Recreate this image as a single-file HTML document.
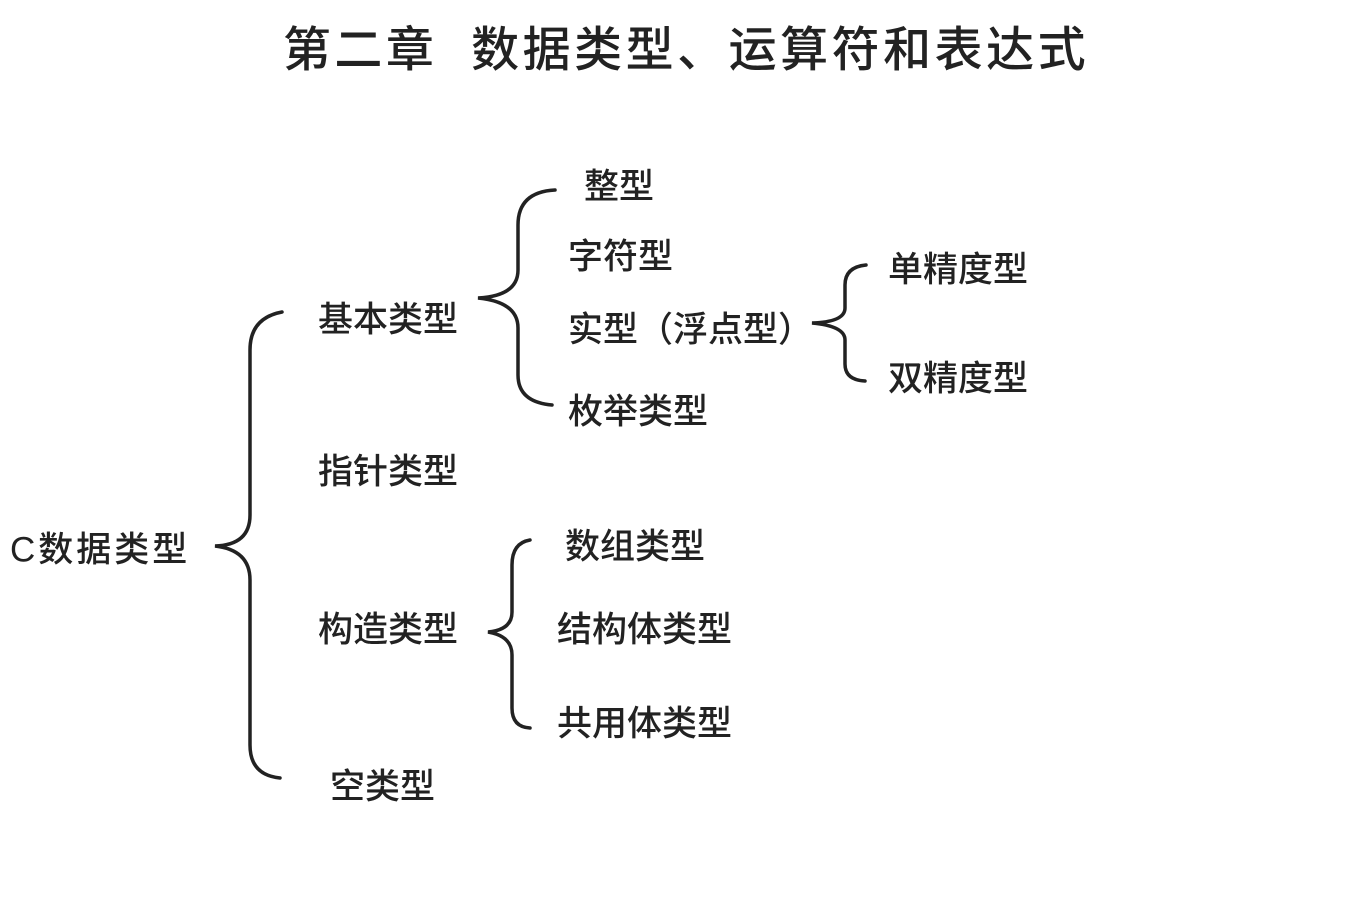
<!DOCTYPE html>
<html><head><meta charset="utf-8">
<style>
body{margin:0;width:1357px;height:904px;background:#fff;position:relative;overflow:hidden;font-family:"Liberation Sans","Noto Sans CJK SC",sans-serif;color:#222}
.t{position:absolute;font-size:35px;font-weight:500;line-height:1;white-space:nowrap;transform:translateY(-50%)}
#title{position:absolute;left:0;width:1372px;text-align:center;top:10px;font-size:48px;font-weight:500;letter-spacing:3.5px}
svg{position:absolute;left:0;top:0}
</style></head><body>
<div id="title">第二章&nbsp;&nbsp;数据类型、运算符和表达式</div>
<svg width="1357" height="904" fill="none" stroke="#222" stroke-width="3.5" stroke-linecap="round">
<path d="M282 312 Q250 318 250 350 L250 515 Q250 545 215 546 Q250 550 250 580 L250 745 Q250 775 280 778"/>
<path d="M555 190 Q518 192 518 225 L518 270 Q518 296 478 298 Q518 302 518 328 L518 375 Q518 402 552 405"/>
<path d="M866 265 Q845 267 845 285 L845 308 Q845 322 812 323 Q845 326 845 340 L845 364 Q845 380 865 381"/>
<path d="M530 540 Q512 543 512 565 L512 612 Q512 630 488 632 Q512 636 512 655 L512 708 Q512 727 530 728"/>
</svg>
<div class="t" style="left:584px;top:187px">整型</div>
<div class="t" style="left:568px;top:257px">字符型</div>
<div class="t" style="left:568px;top:330px">实型（浮点型）</div>
<div class="t" style="left:568px;top:412px">枚举类型</div>
<div class="t" style="left:888px;top:270px">单精度型</div>
<div class="t" style="left:888px;top:379px">双精度型</div>
<div class="t" style="left:318px;top:320px">基本类型</div>
<div class="t" style="left:318px;top:472px">指针类型</div>
<div class="t" style="left:10px;top:550px;letter-spacing:3px">C数据类型</div>
<div class="t" style="left:318px;top:630px">构造类型</div>
<div class="t" style="left:330px;top:787px">空类型</div>
<div class="t" style="left:565px;top:547px">数组类型</div>
<div class="t" style="left:557px;top:630px">结构体类型</div>
<div class="t" style="left:557px;top:724px">共用体类型</div>
</body></html>
